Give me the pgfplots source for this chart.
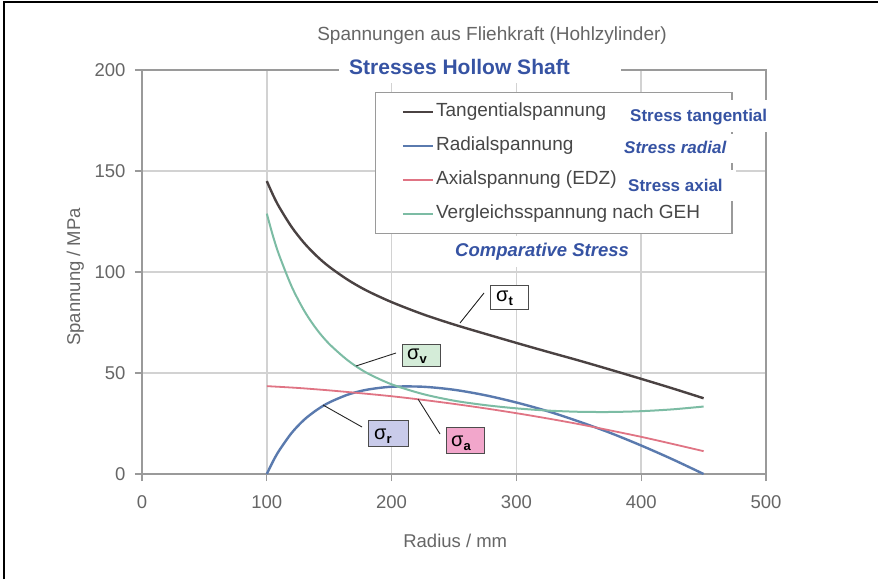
\documentclass[border=0pt]{standalone}
\usepackage{fontspec}
\setmainfont{Liberation Sans}
\usepackage{pgfplots}
\pgfplotsset{compat=1.18}
\definecolor{tcol}{HTML}{4A4242}
\definecolor{rcol}{HTML}{5A7AAE}
\definecolor{acol}{HTML}{E07484}
\definecolor{vcol}{HTML}{7CBCA4}
\definecolor{gridgray}{HTML}{D2D2D2}
\definecolor{axgray}{HTML}{9A9A9A}
\definecolor{labgray}{HTML}{666666}
\definecolor{legtext}{HTML}{474747}
\definecolor{ovblue}{HTML}{3653A3}
\definecolor{vbox}{HTML}{D4ECD8}
\definecolor{rbox}{HTML}{C9CBEA}
\definecolor{abox}{HTML}{F2A6CB}
\begin{document}
\begin{tikzpicture}
\useasboundingbox (0,0) rectangle (878pt,579pt);
\fill[white] (0,0) rectangle (878pt,579pt);
\begin{axis}[
  at={(142pt,105pt)}, anchor=south west,
  scale only axis, width=624pt, height=404pt,
  xmin=0, xmax=500, ymin=0, ymax=200,
  xtick={0,100,...,500}, ytick={0,50,...,200},
  grid=major, major grid style={draw=gridgray, line width=1.6pt},
  axis line style={draw=axgray, line width=1.6pt},
  tick style={draw=axgray, line width=1.2pt},
  tick align=outside, major tick length=7pt,
  xtick pos=bottom, ytick pos=left,
  /pgf/number format/assume math mode=true,
  tick label style={font=\fontsize{18.5}{20}\selectfont, text=labgray},
  yticklabel style={xshift=-6pt},
  xticklabel style={yshift=-11pt},
  title={Spannungen aus Fliehkraft (Hohlzylinder)},
  title style={at={(axis description cs:0.561,1.0594)}, anchor=base, font=\fontsize{19}{21}\selectfont, text=labgray},
  xlabel={Radius / mm},
  xlabel style={at={(axis description cs:0.502,-0.1807)}, anchor=base, font=\fontsize{18.5}{20}\selectfont, text=labgray},
  ylabel={Spannung / MPa},
  ylabel style={at={(axis description cs:-0.107,0.488)}, anchor=center, font=\fontsize{18.5}{20}\selectfont, text=labgray},
  legend image code/.code={\draw[#1] (0pt,0pt) -- (30pt,0pt);},
  legend cell align=left,
  legend style={at={(axis cs:186.7,189.1)}, anchor=north west, draw=axgray, line width=1.4pt, fill=white,
    font=\fontsize{19}{21}\selectfont, text=legtext, inner xsep=26pt, inner ysep=9pt, row sep=13pt,
    nodes={inner sep=2pt, text height=13pt, text depth=4pt}},
]
\addplot[tcol, line width=2.4pt, smooth] coordinates {
(100,145.0)(105,138.1)(110,132.1)(120,122.2)(130,114.3)(140,107.9)(150,102.6)(165,96.1)(180,90.8)(200,85.1)(225,79.1)(250,74.0)(275,69.4)(300,64.9)(325,60.5)(350,56.2)(375,51.7)(400,47.1)(425,42.4)(450,37.5)};
\addlegendentry{\makebox[268pt][l]{Tangentialspannung}}
\addplot[rcol, line width=2.4pt, smooth] coordinates {
(100,0)(105,6.3)(110,11.7)(120,20.4)(130,26.9)(140,31.7)(150,35.4)(165,39.3)(180,41.7)(200,43.2)(225,43.2)(250,41.7)(275,39.0)(300,35.4)(325,31.1)(350,26.0)(375,20.4)(400,14.1)(425,7.3)(450,0)};
\addlegendentry{\makebox[268pt][l]{Radialspannung}}
\addplot[acol, line width=1.8pt, smooth] coordinates {
(100,43.5)(125,42.6)(150,41.4)(175,40.0)(200,38.5)(225,36.7)(250,34.7)(275,32.5)(300,30.1)(325,27.5)(350,24.7)(375,21.6)(400,18.4)(425,14.9)(450,11.3)};
\addlegendentry{\makebox[268pt][l]{Axialspannung (EDZ)}}
\addplot[vcol, line width=2pt, smooth] coordinates {
(100,128.9)(105,117.7)(110,108.2)(120,92.7)(130,80.8)(140,71.6)(150,64.4)(165,56.2)(180,50.1)(200,44.4)(225,39.6)(250,36.3)(275,34.1)(300,32.5)(325,31.4)(350,30.8)(375,30.7)(400,31.1)(425,32.0)(450,33.4)};
\addlegendentry{\makebox[268pt][l]{Vergleichsspannung nach GEH}}
\end{axis}
\begin{scope}[x=1pt, y=-1pt, yshift=579pt]
  % page border
  \draw[black, line width=2pt] (4,579) -- (4,2) -- (878,2);
  % white overlay boxes
  \fill[white] (339,52) rectangle (621,83);
  \fill[white] (622,100) rectangle (778,132);
  \fill[white] (617,134) rectangle (742,163);
  \fill[white] (621,170) rectangle (736,201);
  \fill[white] (446,236) rectangle (640,267);
  \node[anchor=base west, inner sep=0pt, text=ovblue, font=\fontsize{21}{24}\selectfont\bfseries] at (349,75) {Stresses Hollow Shaft};
  \node[anchor=base west, inner sep=0pt, text=ovblue, font=\fontsize{17}{20}\selectfont\bfseries] at (630,122) {Stress tangential};
  \node[anchor=base west, inner sep=0pt, text=ovblue, font=\fontsize{17}{20}\selectfont\bfseries\itshape] at (624,154) {Stress radial};
  \node[anchor=base west, inner sep=0pt, text=ovblue, font=\fontsize{17}{20}\selectfont\bfseries] at (628,192) {Stress axial};
  \node[anchor=base west, inner sep=0pt, text=ovblue, font=\fontsize{18.5}{21}\selectfont\bfseries\itshape] at (455,257) {Comparative Stress};
  % annotation leaders
  \draw[black!85, line width=0.9pt] (484,293) -- (460,323);
  \draw[black!85, line width=0.9pt] (396,353) -- (356,366);
  \draw[black!85, line width=0.9pt] (362,427) -- (323,405);
  \draw[black!85, line width=0.9pt] (440,434) -- (418,399);
  % annotation boxes
  \draw[fill=white, draw=black!70, line width=0.9pt] (490,285) rectangle (528,309);
  \draw[fill=vbox, draw=black!70, line width=0.9pt] (402,344) rectangle (440,366);
  \draw[fill=rbox, draw=black!70, line width=0.9pt] (368,420) rectangle (408,446);
  \draw[fill=abox, draw=black!70, line width=0.9pt] (446,427) rectangle (484,453);
  \node[anchor=base west, inner sep=0pt, font=\fontsize{20}{22}\selectfont] at (496,302) {σ\raisebox{-4pt}{\fontsize{13}{14}\selectfont\bfseries t}};
  \node[anchor=base west, inner sep=0pt, font=\fontsize{20}{22}\selectfont] at (407,359) {σ\raisebox{-4pt}{\fontsize{13}{14}\selectfont\bfseries v}};
  \node[anchor=base west, inner sep=0pt, font=\fontsize{20}{22}\selectfont] at (374,439) {σ\raisebox{-4pt}{\fontsize{13}{14}\selectfont\bfseries r}};
  \node[anchor=base west, inner sep=0pt, font=\fontsize{20}{22}\selectfont] at (451,446) {σ\raisebox{-4pt}{\fontsize{13}{14}\selectfont\bfseries a}};
\end{scope}
\end{tikzpicture}
\end{document}
